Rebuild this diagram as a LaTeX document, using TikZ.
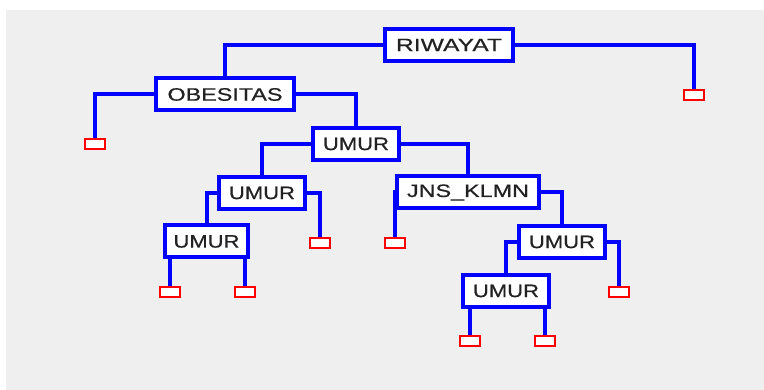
\documentclass[tikz,border=0pt]{standalone}
\usepackage{fontspec}
\setmainfont{Liberation Sans}
\newfontfamily\boxfont[FakeBold=0.5]{Liberation Sans}
\definecolor{bgray}{HTML}{EFEFEF}
\definecolor{tblue}{HTML}{0000FF}
\definecolor{lred}{HTML}{FF0000}
\definecolor{txtc}{HTML}{222222}
\newcommand{\lbl}[2]{\resizebox{#1pt}{\height}{#2}}
\pgfdeclarelayer{bglayer}
\pgfdeclarelayer{linelayer}
\pgfsetlayers{bglayer,linelayer,main}
\begin{document}
\begin{tikzpicture}[x=1pt,y=-1pt,
  tbox/.style={draw=tblue, line width=4pt, fill=white, minimum width=#1, minimum height=32pt, inner sep=0pt, text=txtc, font=\boxfont\fontsize{18}{20}\selectfont},
  leaf/.style={draw=lred, line width=2pt, fill=white, minimum width=20pt, minimum height=10pt, inner sep=0pt},
  conn/.style={draw=tblue, line width=4pt}]
\useasboundingbox (0,0) rectangle (764,390);
\begin{pgfonlayer}{bglayer}
\fill[bgray] (6,10) rectangle (764,390);
\end{pgfonlayer}
% decision boxes
\node[tbox=128pt] (R)  at (449,45)    {\lbl{106}{RIWAYAT}};
\node[tbox=138pt] (O)  at (225,94.5)  {\lbl{115}{OBESITAS}};
\node[tbox=86pt]  (U1) at (356,144)   {\lbl{66}{UMUR}};
\node[tbox=86pt]  (U2) at (262,193)   {\lbl{66}{UMUR}};
\node[tbox=142pt] (J)  at (468,192.5) {\lbl{122}{JNS\_KLMN}};
\node[tbox=83pt]  (U3) at (206.5,241.5) {\lbl{66}{UMUR}};
\node[tbox=86pt]  (U4) at (562,242)   {\lbl{66}{UMUR}};
\node[tbox=86pt]  (U5) at (506,291)   {\lbl{66}{UMUR}};
% leaves
\node[leaf] (L1) at (694,95) {};
\node[leaf] (L2) at (95,144.5) {};
\node[leaf] (L3) at (319.5,243) {};
\node[leaf] (L4) at (394.5,243) {};
\node[leaf] (L5) at (169.5,292.5) {};
\node[leaf] (L6) at (244.5,292.5) {};
\node[leaf] (L7) at (619,292.5) {};
\node[leaf] (L8) at (469.5,341.5) {};
\node[leaf] (L9) at (544.5,341.5) {};
% connectors
\begin{pgfonlayer}{linelayer}
\draw[conn] (R.west) -| (O.north);
\draw[conn] (R.east) -| (L1.north);
\draw[conn] (O.west) -| (L2.north);
\draw[conn] (O.east) -| (U1.north);
\draw[conn] (U1.west) -| (U2.north);
\draw[conn] (U1.east) -| (J.north);
\draw[conn] (U2.west) -| (U3.north);
\draw[conn] (U2.east) -| (L3.north);
\draw[conn] (J.west) -| (L4.north);
\draw[conn] (J.east) -| (U4.north);
\draw[conn] (U4.west) -| (U5.north);
\draw[conn] (U4.east) -| (L7.north);
\draw[conn] (U3.south -| L5.north) -- (L5.north);
\draw[conn] (U3.south -| L6.north) -- (L6.north);
\draw[conn] (U5.south -| L8.north) -- (L8.north);
\draw[conn] (U5.south -| L9.north) -- (L9.north);
\end{pgfonlayer}
\end{tikzpicture}
\end{document}
